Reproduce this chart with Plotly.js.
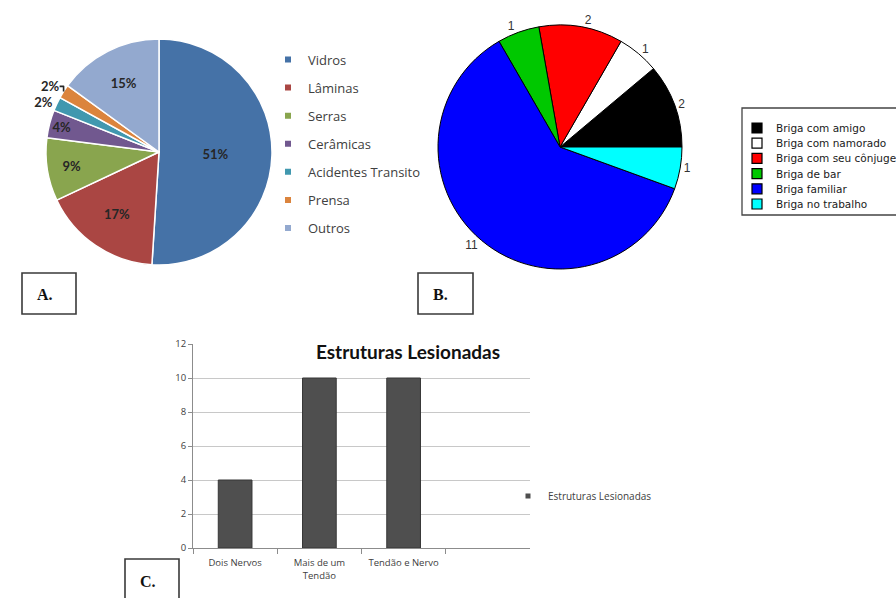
<!DOCTYPE html>
<html>
<head>
<meta charset="utf-8">
<script src="https://cdn.plot.ly/plotly-3.0.1.min.js"></script>
<style>
  html, body { margin: 0; padding: 0; background: #ffffff; }
  #chart { width: 896px; height: 598px; }
</style>
</head>
<body>
<div id="chart"></div>
<script>
// Panel A: causes of the injury (percent of cases)
const causeLabels = ['Vidros', 'Lâminas', 'Serras', 'Cerâmicas', 'Acidentes Transito', 'Prensa', 'Outros'];
const causeValues = [51, 17, 9, 4, 2, 2, 15];
const causeColors = ['#4572A7', '#AA4643', '#89A54E', '#71588F', '#4198AF', '#DB843D', '#93A9CF'];

// Panel B: context of the fight (number of cases)
const fightLabels = ['Briga com amigo', 'Briga com namorado', 'Briga com seu cônjuge', 'Briga de bar', 'Briga familiar', 'Briga no trabalho'];
const fightValues = [2, 1, 2, 1, 11, 1];
const fightColors = ['#000000', '#ffffff', '#ff0000', '#00c800', '#0000ff', '#00ffff'];

// Panel C: injured structures
const structLabels = ['Dois Nervos', 'Mais de um<br>Tendão', 'Tendão e Nervo'];
const structValues = [4, 10, 10];
const structSeries = 'Estruturas Lesionadas';

// Panel tags
const panelTags = ['A.', 'B.', 'C.'];

// ---- helpers: page pixels -> paper fractions (margins are zero) ----
const W = 896, H = 598;
const px = x => x / W;
const py = y => 1 - y / H;

const traces = [];

// Pie A: starts at 12 o'clock, runs clockwise
traces.push({
  type: 'pie',
  labels: causeLabels,
  values: causeValues,
  sort: false,
  direction: 'clockwise',
  rotation: 0,
  domain: { x: [px(46), px(272)], y: [py(265), py(39)] },
  marker: { colors: causeColors, line: { color: '#ffffff', width: 1.5 } },
  textinfo: 'percent',
  textposition: causeValues.map(v => (v < 3 ? 'outside' : 'inside')),
  insidetextorientation: 'horizontal',
  textfont: { family: 'Lato', size: 13, weight: 'bold', color: '#262626' },
  outsidetextfont: { family: 'Lato', size: 13, weight: 'bold', color: '#262626' },
  showlegend: false,
  hoverinfo: 'label+percent'
});

// Pie B: first slice begins at 3 o'clock and the slices run counterclockwise.
// For counterclockwise pies plotly places the first slice clockwise of `rotation`,
// so the start line is shifted back by the first slice's angle.
const fightTotal = fightValues.reduce((a, b) => a + b, 0);
traces.push({
  type: 'pie',
  labels: fightLabels,
  values: fightValues,
  sort: false,
  direction: 'counterclockwise',
  rotation: 90 - 360 * fightValues[0] / fightTotal,
  domain: { x: [px(438), px(682)], y: [py(269), py(25)] },
  marker: { colors: fightColors, line: { color: '#000000', width: 1 } },
  textinfo: 'value',
  textposition: 'outside',
  textfont: { family: 'Liberation Sans', size: 12, color: '#333333' },
  outsidetextfont: { family: 'Liberation Sans', size: 12, color: '#333333' },
  showlegend: false,
  hoverinfo: 'label+value'
});

// Bar chart C
traces.push({
  type: 'bar',
  x: structLabels,
  y: structValues,
  name: structSeries,
  marker: { color: '#4f4f4f', line: { color: '#363636', width: 1 } },
  showlegend: false,
  hoverinfo: 'x+y'
});

// Legend entries for pie A (small square keys)
causeLabels.forEach((lab, i) => {
  traces.push({
    type: 'scatter', mode: 'markers',
    x: [null], y: [null],
    name: lab,
    legend: 'legend',
    legendgroup: 'cause' + i,
    marker: { symbol: 'square', size: 6, color: causeColors[i] },
    hoverinfo: 'skip'
  });
});

// Legend entry for the bar series
traces.push({
  type: 'scatter', mode: 'markers',
  x: [null], y: [null],
  name: structSeries,
  legend: 'legend2',
  marker: { symbol: 'square', size: 5, color: '#4f4f4f' },
  hoverinfo: 'skip'
});

// Boxed legend for pie B, built from its arrays
const shapes = [];
const annotations = [];
shapes.push({
  type: 'rect', xref: 'paper', yref: 'paper',
  x0: px(742), x1: px(910), y0: py(215), y1: py(108),
  line: { color: '#444444', width: 1.3 }, fillcolor: 'rgba(0,0,0,0)'
});
fightLabels.forEach((lab, i) => {
  const cy = 128 + i * 15.2;
  shapes.push({
    type: 'rect', xref: 'paper', yref: 'paper',
    x0: px(752), x1: px(762), y0: py(cy + 5), y1: py(cy - 5),
    line: { color: '#000000', width: 1.2 }, fillcolor: fightColors[i]
  });
  annotations.push({
    xref: 'paper', yref: 'paper', x: px(774), y: py(cy),
    xanchor: 'left', yanchor: 'middle', showarrow: false,
    text: lab,
    font: { family: 'DejaVu Sans', size: 10.5, color: '#1a1a1a' }
  });
});

// Panel tag boxes
const tagBoxes = [
  { x0: 22, x1: 76, y0: 273, y1: 314, tx: 45, ty: 294 },
  { x0: 418, x1: 473, y0: 273, y1: 314, tx: 440, ty: 294 },
  { x0: 125, x1: 179, y0: 559, y1: 605, tx: 148, ty: 581 }
];
tagBoxes.forEach((b, i) => {
  shapes.push({
    type: 'rect', xref: 'paper', yref: 'paper',
    x0: px(b.x0), x1: px(b.x1), y0: py(b.y1), y1: py(b.y0),
    line: { color: '#3a3a3a', width: 1.6 }, fillcolor: '#ffffff'
  });
  annotations.push({
    xref: 'paper', yref: 'paper', x: px(b.tx), y: py(b.ty),
    xanchor: 'center', yanchor: 'middle', showarrow: false,
    text: '<b>' + panelTags[i] + '</b>',
    font: { family: 'Liberation Serif', size: 16, color: '#111111' }
  });
});

const axisGray = '#8c8c8c';

const layout = {
  width: W, height: H,
  margin: { l: 0, r: 0, t: 0, b: 0, autoexpand: false },
  paper_bgcolor: '#ffffff',
  plot_bgcolor: '#ffffff',
  font: { family: 'Open Sans', color: '#404040' },
  title: {
    text: structSeries,
    xref: 'container', yref: 'container',
    x: px(408), y: py(352), xanchor: 'center', yanchor: 'middle',
    font: { family: 'Lato', size: 19, weight: 'bold', color: '#111111' }
  },
  bargap: 0.6,
  xaxis: {
    domain: [px(193), px(530)],
    type: 'category',
    range: [-0.5, 3.5],
    showline: true, linecolor: axisGray, linewidth: 1,
    ticks: 'outside', tickson: 'boundaries', ticklen: 5, tickcolor: axisGray,
    tickangle: 0, ticklabelstandoff: 6,
    showgrid: false, zeroline: false,
    tickfont: { family: 'Open Sans', size: 9.5, color: '#404040' },
    fixedrange: true
  },
  yaxis: {
    domain: [py(548), py(344)],
    range: [0, 12], dtick: 2,
    showline: true, linecolor: axisGray, linewidth: 1,
    ticks: 'outside', ticklen: 4, tickcolor: axisGray,
    gridcolor: '#c8c8c8', zeroline: false,
    tickfont: { family: 'Open Sans', size: 9.5, color: '#404040' },
    fixedrange: true
  },
  legend: {
    xref: 'container', yref: 'container',
    x: px(268), y: py(44.5), xanchor: 'left', yanchor: 'top',
    bgcolor: 'rgba(0,0,0,0)', borderwidth: 0,
    tracegroupgap: 8.2,
    font: { family: 'Open Sans', size: 13, color: '#404040' }
  },
  legend2: {
    xref: 'container', yref: 'container',
    x: px(508), y: py(481.5), xanchor: 'left', yanchor: 'top',
    bgcolor: 'rgba(0,0,0,0)', borderwidth: 0,
    font: { family: 'Open Sans', size: 10, color: '#404040' }
  },
  shapes: shapes,
  annotations: annotations,
  showlegend: true
};

Plotly.newPlot('chart', traces, layout, { displayModeBar: false, staticPlot: true });
</script>
</body>
</html>
